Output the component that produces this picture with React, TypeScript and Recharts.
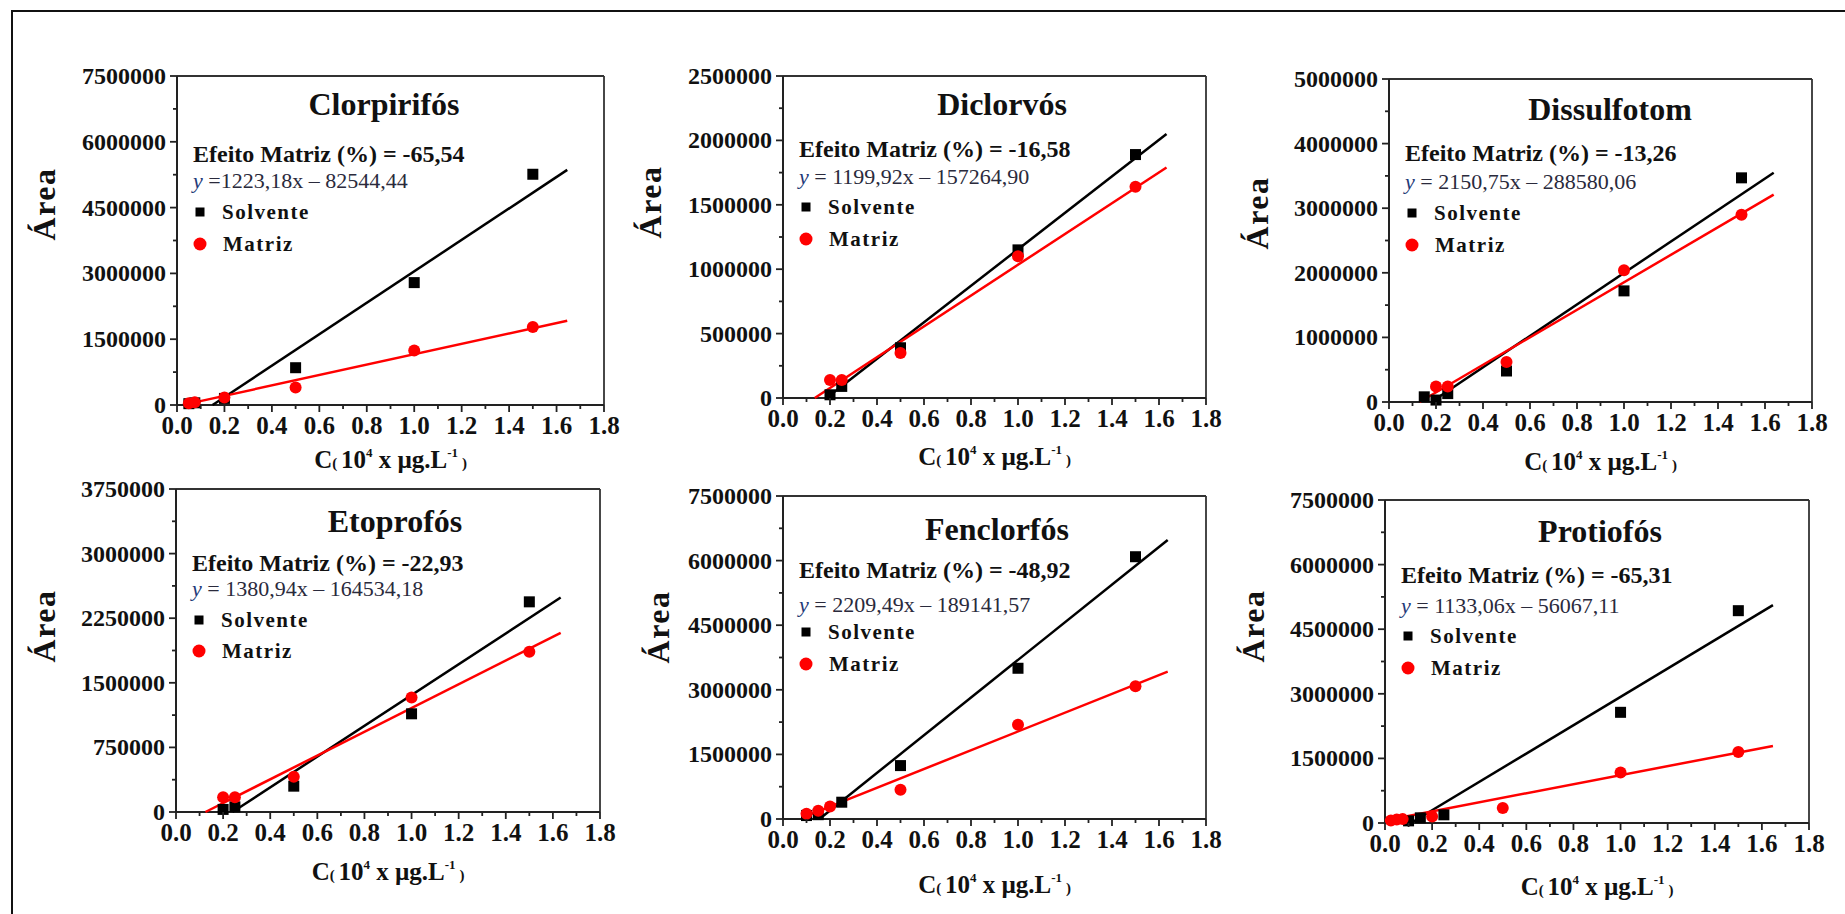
import React from "react"
import { ReferenceLine, Scatter, ScatterChart, XAxis, YAxis } from "recharts"

type Pt = { x: number; y: number }

const FONT = "'Liberation Serif', 'Times New Roman', serif"

// x axis: 0.1 steps, labels on every other one
const xTicks = [0, 0.1, 0.2, 0.3, 0.4, 0.5, 0.6, 0.7, 0.8, 0.9, 1.0, 1.1, 1.2, 1.3, 1.4, 1.5, 1.6, 1.7, 1.8]
const xLabels = [0, 0.2, 0.4, 0.6, 0.8, 1.0, 1.2, 1.4, 1.6, 1.8]

// Clorpirifós
const clorSolvente: Pt[] = [
  { x: 0.05, y: 30000 }, { x: 0.075, y: 50000 }, { x: 0.2, y: 150000 },
  { x: 0.5, y: 850000 }, { x: 1.0, y: 2790000 }, { x: 1.5, y: 5260000 },
]
const clorMatriz: Pt[] = [
  { x: 0.05, y: 40000 }, { x: 0.075, y: 60000 }, { x: 0.2, y: 170000 },
  { x: 0.5, y: 400000 }, { x: 1.0, y: 1240000 }, { x: 1.5, y: 1780000 },
]
const clorFitSolvente: Pt[] = [{ x: 0.15, y: 0 }, { x: 1.645, y: 5360000 }]
const clorFitMatriz: Pt[] = [{ x: 0.04, y: 20000 }, { x: 1.645, y: 1920000 }]
const clorYTicks = [0, 750000, 1500000, 2250000, 3000000, 3750000, 4500000, 5250000, 6000000, 6750000, 7500000]
const clorYLabels = [0, 1500000, 3000000, 4500000, 6000000, 7500000]

// Diclorvós
const diclSolvente: Pt[] = [
  { x: 0.2, y: 25000 }, { x: 0.25, y: 90000 }, { x: 0.5, y: 390000 },
  { x: 1.0, y: 1150000 }, { x: 1.5, y: 1890000 },
]
const diclMatriz: Pt[] = [
  { x: 0.2, y: 140000 }, { x: 0.25, y: 140000 }, { x: 0.5, y: 350000 },
  { x: 1.0, y: 1100000 }, { x: 1.5, y: 1640000 },
]
const diclFitSolvente: Pt[] = [{ x: 0.185, y: 0 }, { x: 1.632, y: 2050000 }]
const diclFitMatriz: Pt[] = [{ x: 0.135, y: 0 }, { x: 1.632, y: 1790000 }]
const diclYTicks = [0, 250000, 500000, 750000, 1000000, 1250000, 1500000, 1750000, 2000000, 2250000, 2500000]
const diclYLabels = [0, 500000, 1000000, 1500000, 2000000, 2500000]

// Dissulfotom
const dissSolvente: Pt[] = [
  { x: 0.15, y: 80000 }, { x: 0.2, y: 30000 }, { x: 0.25, y: 130000 },
  { x: 0.5, y: 480000 }, { x: 1.0, y: 1720000 }, { x: 1.5, y: 3470000 },
]
const dissMatriz: Pt[] = [
  { x: 0.2, y: 240000 }, { x: 0.25, y: 240000 }, { x: 0.5, y: 620000 },
  { x: 1.0, y: 2040000 }, { x: 1.5, y: 2900000 },
]
const dissFitSolvente: Pt[] = [{ x: 0.18, y: 0 }, { x: 1.637, y: 3550000 }]
const dissFitMatriz: Pt[] = [{ x: 0.13, y: 0 }, { x: 1.637, y: 3210000 }]
const dissYTicks = [0, 500000, 1000000, 1500000, 2000000, 2500000, 3000000, 3500000, 4000000, 4500000, 5000000]
const dissYLabels = [0, 1000000, 2000000, 3000000, 4000000, 5000000]

// Etoprofós
const etopSolvente: Pt[] = [
  { x: 0.2, y: 30000 }, { x: 0.25, y: 60000 }, { x: 0.5, y: 300000 },
  { x: 1.0, y: 1140000 }, { x: 1.5, y: 2440000 },
]
const etopMatriz: Pt[] = [
  { x: 0.2, y: 170000 }, { x: 0.25, y: 170000 }, { x: 0.5, y: 410000 },
  { x: 1.0, y: 1330000 }, { x: 1.5, y: 1860000 },
]
const etopFitSolvente: Pt[] = [{ x: 0.24, y: 0 }, { x: 1.633, y: 2490000 }]
const etopFitMatriz: Pt[] = [{ x: 0.125, y: 0 }, { x: 1.633, y: 2080000 }]
const etopYTicks = [0, 375000, 750000, 1125000, 1500000, 1875000, 2250000, 2625000, 3000000, 3375000, 3750000]
const etopYLabels = [0, 750000, 1500000, 2250000, 3000000, 3750000]

// Fenclorfós
const fencSolvente: Pt[] = [
  { x: 0.1, y: 80000 }, { x: 0.15, y: 100000 }, { x: 0.25, y: 390000 },
  { x: 0.5, y: 1240000 }, { x: 1.0, y: 3500000 }, { x: 1.5, y: 6090000 },
]
const fencMatriz: Pt[] = [
  { x: 0.1, y: 120000 }, { x: 0.15, y: 190000 }, { x: 0.2, y: 290000 },
  { x: 0.5, y: 680000 }, { x: 1.0, y: 2190000 }, { x: 1.5, y: 3080000 },
]
const fencFitSolvente: Pt[] = [{ x: 0.155, y: 0 }, { x: 1.637, y: 6480000 }]
const fencFitMatriz: Pt[] = [{ x: 0.09, y: 50000 }, { x: 1.637, y: 3420000 }]

// Protiofós
const protSolvente: Pt[] = [
  { x: 0.1, y: 50000 }, { x: 0.15, y: 120000 }, { x: 0.25, y: 190000 },
  { x: 1.0, y: 2570000 }, { x: 1.5, y: 4930000 },
]
const protMatriz: Pt[] = [
  { x: 0.025, y: 60000 }, { x: 0.05, y: 80000 }, { x: 0.075, y: 90000 }, { x: 0.2, y: 150000 },
  { x: 0.5, y: 350000 }, { x: 1.0, y: 1170000 }, { x: 1.5, y: 1650000 },
]
const protFitSolvente: Pt[] = [{ x: 0.11, y: 0 }, { x: 1.647, y: 5060000 }]
const protFitMatriz: Pt[] = [{ x: 0.0, y: 60000 }, { x: 1.647, y: 1790000 }]

const names = ["Clorpirifós", "Diclorvós", "Dissulfotom", "Etoprofós", "Fenclorfós", "Protiofós"]
const efeitos = ["-65,54", "-16,58", "-13,26", "-22,93", "-48,92", "-65,31"]
const equations = [
  " =1223,18x – 82544,44",
  " = 1199,92x – 157264,90",
  " = 2150,75x – 288580,06",
  " = 1380,94x – 164534,18",
  " = 2209,49x – 189141,57",
  " = 1133,06x – 56067,11",
]

const panels = [
  { solvente: clorSolvente, matriz: clorMatriz, fitS: clorFitSolvente, fitM: clorFitMatriz, yMax: 7500000, yTicks: clorYTicks, yLabels: clorYLabels },
  { solvente: diclSolvente, matriz: diclMatriz, fitS: diclFitSolvente, fitM: diclFitMatriz, yMax: 2500000, yTicks: diclYTicks, yLabels: diclYLabels },
  { solvente: dissSolvente, matriz: dissMatriz, fitS: dissFitSolvente, fitM: dissFitMatriz, yMax: 5000000, yTicks: dissYTicks, yLabels: dissYLabels },
  { solvente: etopSolvente, matriz: etopMatriz, fitS: etopFitSolvente, fitM: etopFitMatriz, yMax: 3750000, yTicks: etopYTicks, yLabels: etopYLabels },
  { solvente: fencSolvente, matriz: fencMatriz, fitS: fencFitSolvente, fitM: fencFitMatriz, yMax: 7500000, yTicks: clorYTicks, yLabels: clorYLabels },
  { solvente: protSolvente, matriz: protMatriz, fitS: protFitSolvente, fitM: protFitMatriz, yMax: 7500000, yTicks: clorYTicks, yLabels: clorYLabels },
]

// plot-area placement on the page and text offsets (relative to plot left/top)
const layout = [
  { left: 177, top: 76, w: 427, h: 329, titleX: 207, titleY: 39, efY: 86, eqY: 112, sqY: 136, ciY: 168, areaX: -133, areaY: 128, xlabY: 63 },
  { left: 783, top: 76, w: 423, h: 322, titleX: 219, titleY: 39, efY: 81, eqY: 108, sqY: 131, ciY: 163, areaX: -133, areaY: 126, xlabY: 67 },
  { left: 1389, top: 79, w: 423, h: 323, titleX: 221, titleY: 41, efY: 82, eqY: 110, sqY: 134, ciY: 166, areaX: -132, areaY: 134, xlabY: 68 },
  { left: 176, top: 489, w: 424, h: 323, titleX: 219, titleY: 43, efY: 82, eqY: 107, sqY: 131, ciY: 162, areaX: -132, areaY: 137, xlabY: 68 },
  { left: 783, top: 496, w: 423, h: 323, titleX: 214, titleY: 44, efY: 82, eqY: 116, sqY: 136, ciY: 168, areaX: -125, areaY: 131, xlabY: 74 },
  { left: 1385, top: 500, w: 424, h: 323, titleX: 215, titleY: 42, efY: 83, eqY: 113, sqY: 136, ciY: 168, areaX: -132, areaY: 126, xlabY: 72 },
]

const PADL = 150
const PADT = 70
const PADR = 30
const PADB = 90

const serif = { fontFamily: FONT }

function XTick(props: any) {
  const { x, y, payload } = props
  const v = payload.value
  const major = xLabels.some((m) => Math.abs(m - v) < 1e-6)
  return (
    <g>
      <line x1={x} x2={x} y1={y} y2={y + (major ? 7 : 4)} stroke="#222" strokeWidth={1.8} />
      {major && (
        <text x={x} y={y + 29} textAnchor="middle" style={serif} fontWeight="bold" fontSize={25} fill="#111">
          {v.toFixed(1)}
        </text>
      )}
    </g>
  )
}

function makeYTick(labels: number[]) {
  return function YTick(props: any) {
    const { x, y, payload } = props
    const major = labels.includes(payload.value)
    return (
      <g>
        <line x1={x} x2={x - (major ? 7 : 4)} y1={y} y2={y} stroke="#222" strokeWidth={1.8} />
        {major && (
          <text x={x - 11} y={y + 8} textAnchor="end" style={serif} fontWeight="bold" fontSize={24} fill="#111">
            {String(payload.value)}
          </text>
        )}
      </g>
    )
  }
}

const square = (p: any) => <rect x={p.cx - 5.5} y={p.cy - 5.5} width={11} height={11} fill="#000" />
const dot = (p: any) => <circle cx={p.cx} cy={p.cy} r={6} fill="#ff0000" />
const noShape = () => <g />

function Panel({ i }: { i: number }) {
  const p = panels[i]
  const l = layout[i]
  const W = PADL + l.w + PADR
  const H = PADT + l.h + PADB
  const ox = PADL
  const oy = PADT
  return (
    <div style={{ position: "absolute", left: l.left - PADL, top: l.top - PADT, width: W, height: H }}>
      <ScatterChart width={W} height={H} margin={{ top: PADT, right: PADR, bottom: 0, left: 0 }}>
        <XAxis
          type="number"
          dataKey="x"
          domain={[0, 1.8]}
          ticks={xTicks}
          interval={0}
          height={PADB}
          tickSize={0}
          tickMargin={0}
          tickLine={false}
          tick={<XTick />}
          axisLine={{ stroke: "#222", strokeWidth: 2 }}
        />
        <YAxis
          type="number"
          dataKey="y"
          domain={[0, p.yMax]}
          ticks={p.yTicks}
          interval={0}
          width={PADL}
          tickSize={0}
          tickMargin={0}
          tickLine={false}
          tick={makeYTick(p.yLabels)}
          axisLine={{ stroke: "#222", strokeWidth: 2 }}
        />
        <ReferenceLine y={p.yMax} stroke="#333" strokeWidth={1.8} />
        <ReferenceLine x={1.8} stroke="#333" strokeWidth={1.8} />
        <Scatter data={p.fitS} line={{ stroke: "#000", strokeWidth: 2.5 }} shape={noShape} isAnimationActive={false} />
        <Scatter data={p.fitM} line={{ stroke: "#ff0000", strokeWidth: 2.5 }} shape={noShape} isAnimationActive={false} />
        <Scatter data={p.solvente} shape={square} isAnimationActive={false} />
        <Scatter data={p.matriz} shape={dot} isAnimationActive={false} />
      </ScatterChart>
      <svg width={W} height={H} style={{ position: "absolute", left: 0, top: 0, pointerEvents: "none" }}>
        <text x={ox + l.titleX} y={oy + l.titleY} textAnchor="middle" style={serif} fontWeight="bold" fontSize={32} fill="#111">
          {names[i]}
        </text>
        <text x={ox + 16} y={oy + l.efY} style={serif} fontWeight="bold" fontSize={24} fill="#111">
          {"Efeito Matriz (%) = " + efeitos[i]}
        </text>
        <text x={ox + 16} y={oy + l.eqY} style={serif} fontSize={22} fill="#2a2a3c">
          <tspan fontStyle="italic" fill="#1f3a78">y</tspan>
          <tspan>{equations[i]}</tspan>
        </text>
        <rect x={ox + 18.5} y={oy + l.sqY - 4.5} width={9} height={9} fill="#000" />
        <text x={ox + 45} y={oy + l.sqY + 7} style={serif} fontWeight="bold" fontSize={21} letterSpacing={1.5} fill="#111">
          Solvente
        </text>
        <circle cx={ox + 23} cy={oy + l.ciY} r={6.5} fill="#ff0000" />
        <text x={ox + 46} y={oy + l.ciY + 7} style={serif} fontWeight="bold" fontSize={21} letterSpacing={1.5} fill="#111">
          Matriz
        </text>
        <text
          x={0}
          y={0}
          transform={`translate(${ox + l.areaX + 11}, ${oy + l.areaY}) rotate(-90)`}
          textAnchor="middle"
          style={serif}
          fontWeight="bold"
          fontSize={32}
          letterSpacing={1.5}
          fill="#111"
        >
          Área
        </text>
        <text x={ox + l.w / 2} y={oy + l.h + l.xlabY} textAnchor="middle" style={serif} fontWeight="bold" fontSize={25} fill="#111">
          <tspan>C</tspan>
          <tspan fontSize={15}>( </tspan>
          <tspan>10</tspan>
          <tspan fontSize={13} dy={-11}>4</tspan>
          <tspan dy={11}> x µg.L</tspan>
          <tspan fontSize={13} dy={-11}>-1</tspan>
          <tspan fontSize={15} dy={11}> )</tspan>
        </text>
      </svg>
    </div>
  )
}

export default function App() {
  return (
    <div style={{ position: "absolute", left: 0, top: 0, width: 1845, height: 914, background: "#fff", overflow: "hidden" }}>
      <div style={{ position: "absolute", left: 11, top: 10, width: 1900, height: 1000, borderTop: "2px solid #111", borderLeft: "2px solid #111" }} />
      {panels.map((_, i) => (
        <Panel key={i} i={i} />
      ))}
    </div>
  )
}
